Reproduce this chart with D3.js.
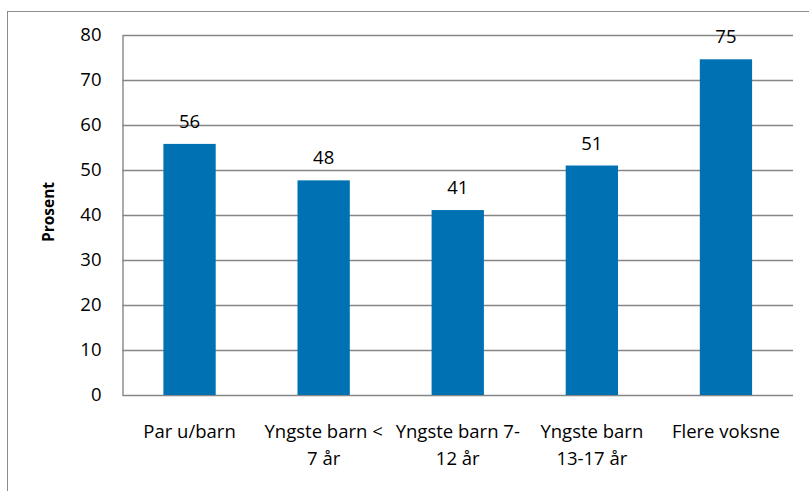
<!DOCTYPE html>
<html>
<head>
<meta charset="utf-8">
<script src="https://cdn.jsdelivr.net/npm/d3@7"></script>
<style>
  html, body { margin: 0; padding: 0; background: #fff; }
  svg { display: block; }
  text { font-family: "Open Sans", Lato, sans-serif; fill: #000; }
</style>
</head>
<body>
<svg id="chart" width="809" height="491"></svg>
<script>
// Household types (two-line labels) and share in percent
const categories = [
  ["Par u/barn"],
  ["Yngste barn <", "7 år"],
  ["Yngste barn 7-", "12 år"],
  ["Yngste barn", "13-17 år"],
  ["Flere voksne"]
];
const values = [55.8, 47.7, 41.1, 51.0, 74.6];
const yTicks = [0, 10, 20, 30, 40, 50, 60, 70, 80];
const yTitle = "Prosent";

const FONT = "'Open Sans', Lato, sans-serif";
const svg = d3.select("#chart");
const W = 809, H = 491;
const margin = { left: 122.5, right: W - 793, top: 35, bottom: H - 395 };

// Outer chart frame (extends past the right/bottom of the view)
svg.append("rect")
  .attr("x", 7.5).attr("y", 11.5)
  .attr("width", W).attr("height", H)
  .attr("fill", "none").attr("stroke", "#8c8c8c").attr("stroke-width", 1);

const x = d3.scaleBand()
  .domain(d3.range(categories.length))
  .range([margin.left, W - margin.right])
  .paddingInner(0.61).paddingOuter(0.305);

const y = d3.scaleLinear()
  .domain([0, 80])
  .range([H - margin.bottom, margin.top]);

// Horizontal gridlines
svg.append("g")
  .selectAll("line")
  .data(yTicks)
  .join("line")
  .attr("x1", margin.left).attr("x2", W - margin.right)
  .attr("y1", d => Math.round(y(d)) + 0.5).attr("y2", d => Math.round(y(d)) + 0.5)
  .attr("stroke", "#868686").attr("stroke-width", 1.4);

// Y axis
const yAxis = svg.append("g")
  .attr("transform", `translate(${margin.left},0)`)
  .call(d3.axisLeft(y).tickValues(yTicks).tickSize(0).tickPadding(21));
yAxis.select(".domain").attr("stroke", "#868686").attr("stroke-width", 1.4);
yAxis.selectAll("text")
  .style("font-family", FONT)
  .style("font-size", "18.5px")
  .attr("fill", "#000");

// Y axis title
svg.append("text")
  .attr("transform", `translate(54,212) rotate(-90)`)
  .attr("text-anchor", "middle")
  .style("font-size", "15.5px")
  .style("font-weight", "bold")
  .text(yTitle);

// Bars
svg.append("g")
  .selectAll("rect")
  .data(values)
  .join("rect")
  .attr("x", (d, i) => x(i))
  .attr("width", x.bandwidth())
  .attr("y", d => y(d))
  .attr("height", d => y(0) - y(d))
  .attr("fill", "#0072b4");

// Value labels
svg.append("g")
  .selectAll("text")
  .data(values)
  .join("text")
  .attr("x", (d, i) => x(i) + x.bandwidth() / 2)
  .attr("y", d => y(d) - 16)
  .attr("text-anchor", "middle")
  .style("font-size", "18.5px")
  .text(d => d3.format(".0f")(d));

// Category labels
const cat = svg.append("g")
  .selectAll("text")
  .data(categories)
  .join("text")
  .attr("x", (d, i) => x(i) + x.bandwidth() / 2)
  .attr("y", 438)
  .attr("text-anchor", "middle")
  .style("font-size", "18.5px");
cat.selectAll("tspan")
  .data(d => d)
  .join("tspan")
  .attr("x", function () { return d3.select(this.parentNode).attr("x"); })
  .attr("dy", (d, i) => i === 0 ? 0 : 27)
  .text(d => d);
</script>
</body>
</html>
